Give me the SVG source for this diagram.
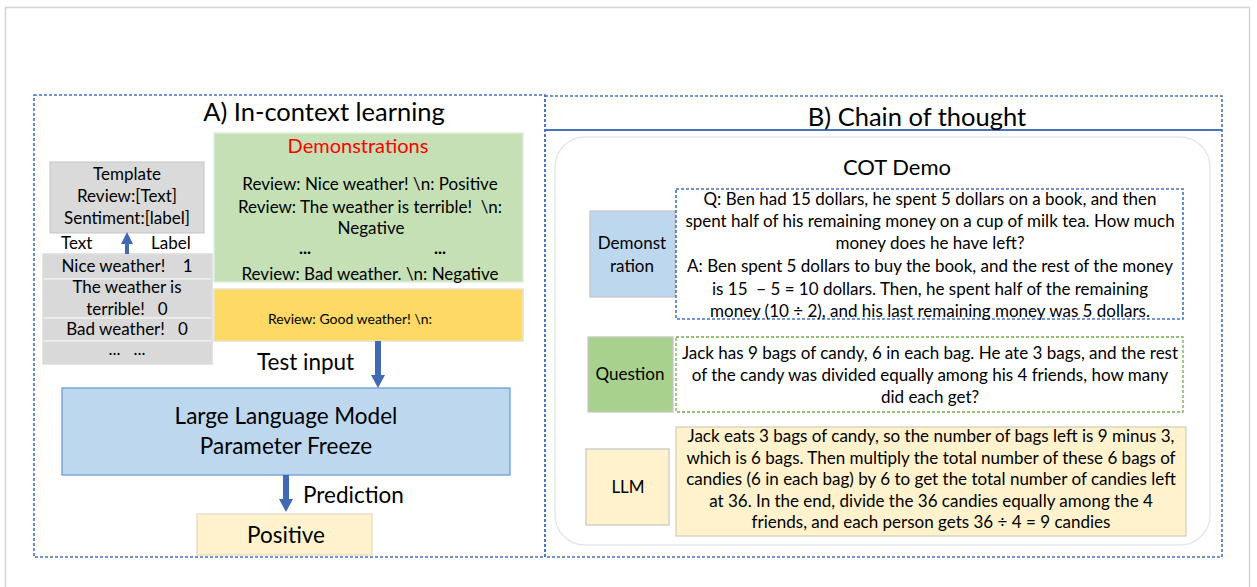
<svg xmlns="http://www.w3.org/2000/svg" width="1257" height="587" viewBox="0 0 1257 587">
<defs>
<style>
text{font-family:Lato,"Liberation Sans",sans-serif;fill:#000;}
.c{text-anchor:middle;}
.dash{fill:none;stroke:#4472c4;stroke-width:1.6;stroke-dasharray:3 2;}
.gray{fill:#dadada;stroke:#c6c6c6;stroke-width:1;}
.row{fill:#d9d9d9;stroke:#f2f2f2;stroke-width:1.2;}
.t15{font-size:17px;}
.t20{font-size:22.5px;}
</style>
</defs>
<rect x="0" y="0" width="1257" height="587" fill="#fff"/>
<rect x="5.5" y="7.5" width="1244" height="600" fill="none" stroke="#d4d4d4" stroke-width="1.5"/>

<g id="panelA">
<rect class="dash" x="34" y="95" width="511" height="462"/>
<text class="c" x="324" y="121" font-size="25.5">A) In-context learning</text>
</g>

<g id="panelB">
<rect class="dash" x="545" y="96" width="677" height="461"/>
<line x1="545" y1="130" x2="1222" y2="130" stroke="#4472c4" stroke-width="1.8"/>
<text class="c" x="917" y="126" font-size="25.5">B) Chain of thought</text>
<rect x="555" y="137" width="655" height="408" rx="30" fill="#fff" stroke="#e6e6f2" stroke-width="1.5"/>
<text class="c" x="897" y="175" font-size="22">COT Demo</text>
</g>

<g id="template">
<rect class="gray" x="50" y="162" width="154" height="71"/>
<text class="c t15" x="127" y="180">Template</text>
<text class="c t15" x="127" y="202">Review:[Text]</text>
<text class="c t15" x="127" y="224">Sentiment:[label]</text>
</g>

<g id="table">
<text class="t15" x="61" y="249">Text</text>
<text class="t15" x="151" y="249">Label</text>
<rect class="row" x="43" y="254" width="169" height="25"/>
<rect class="row" x="43" y="279" width="169" height="39"/>
<rect class="row" x="43" y="318" width="169" height="23"/>
<rect class="row" x="43" y="341" width="169" height="23"/>
<rect x="43" y="254" width="169" height="110" fill="none" stroke="#cfcfcf" stroke-width="1"/>
<text class="c t15" x="127" y="272" xml:space="preserve">Nice weather!    1</text>
<text class="c t15" x="127" y="293">The weather is</text>
<text class="c t15" x="127" y="315" xml:space="preserve">terrible!   0</text>
<text class="c t15" x="127" y="335" xml:space="preserve">Bad weather!   0</text>
<text class="c t15" x="127" y="355" xml:space="preserve">...   ...</text>
</g>

<g id="demonstrations">
<rect x="214" y="133" width="309" height="149" fill="#c5e0b4" stroke="#dfeedd" stroke-width="1.5"/>
<text class="c" x="358" y="153" font-size="20" style="fill:#ff0000">Demonstrations</text>
<text class="c t15" x="370" y="190">Review: Nice weather! \n: Positive</text>
<text class="c t15" x="370" y="213" xml:space="preserve">Review: The weather is terrible!  \n:</text>
<text class="c t15" x="371" y="234">Negative</text>
<text class="t15" x="299" y="254" font-weight="bold">...</text>
<text class="t15" x="434" y="254" font-weight="bold">...</text>
<text class="c t15" x="370" y="280">Review: Bad weather. \n: Negative</text>
</g>

<g id="testinput">
<rect x="214" y="289" width="309" height="52" fill="#ffd966" stroke="#e8e2c8" stroke-width="1.5"/>
<text class="c" x="350" y="324" font-size="14">Review: Good weather! \n:</text>
</g>

<g id="llm">
<rect x="62" y="388" width="448" height="87" fill="#bdd7ee" stroke="#6f9bd6" stroke-width="1.3"/>
<text class="c t20" x="286" y="424">Large Language Model</text>
<text class="c t20" x="286" y="454">Parameter Freeze</text>
</g>

<g id="positive">
<rect x="197" y="514" width="175" height="41" fill="#fff2cc" stroke="#e3dcc6" stroke-width="1.3"/>
<text class="c t20" x="286" y="543">Positive</text>
</g>

<g id="cot-demo">
<rect x="590" y="211" width="85" height="86" fill="#bdd7ee" stroke="#c7c7c7" stroke-width="1.3"/>
<text class="c t15" x="632" y="249">Demonst</text>
<text class="c t15" x="632" y="272">ration</text>
<rect class="dash" x="676" y="189" width="507" height="130"/>
<text class="c t15" x="930" y="205">Q: Ben had 15 dollars, he spent 5 dollars on a book, and then</text>
<text class="c t15" x="930" y="227">spent half of his remaining money on a cup of milk tea. How much</text>
<text class="c t15" x="930" y="249">money does he have left?</text>
<text class="c t15" x="930" y="272">A: Ben spent 5 dollars to buy the book, and the rest of the money</text>
<text class="c t15" x="930" y="295" xml:space="preserve">is 15  − 5 = 10 dollars. Then, he spent half of the remaining</text>
<text class="c t15" x="930" y="317">money (10 ÷ 2), and his last remaining money was 5 dollars.</text>
</g>

<g id="cot-question">
<rect x="588" y="337" width="85" height="75" fill="#a9d18e" stroke="#c7c7c7" stroke-width="1.3"/>
<text class="c t15" x="630" y="380">Question</text>
<rect x="676" y="337" width="507" height="75" fill="none" stroke="#70ad47" stroke-width="1.3" stroke-dasharray="3 2"/>
<text class="c t15" x="930" y="359">Jack has 9 bags of candy, 6 in each bag. He ate 3 bags, and the rest</text>
<text class="c t15" x="930" y="381">of the candy was divided equally among his 4 friends, how many</text>
<text class="c t15" x="930" y="403">did each get?</text>
</g>

<g id="cot-llm">
<rect x="586" y="449" width="83" height="76" fill="#fff2cc" stroke="#c9c9c9" stroke-width="1.3"/>
<text class="c t15" x="628" y="493">LLM</text>
<rect x="676" y="427" width="510" height="109" fill="#fff2cc" stroke="#d6cfb8" stroke-width="1.3"/>
<text class="c t15" x="931" y="442">Jack eats 3 bags of candy, so the number of bags left is 9 minus 3,</text>
<text class="c t15" x="931" y="464">which is 6 bags. Then multiply the total number of these 6 bags of</text>
<text class="c t15" x="931" y="485">candies (6 in each bag) by 6 to get the total number of candies left</text>
<text class="c t15" x="931" y="507">at 36. In the end, divide the 36 candies equally among the 4</text>
<text class="c t15" x="931" y="528">friends, and each person gets 36 ÷ 4 = 9 candies</text>
</g>

<g id="connectors" fill="#4169b4" stroke="none">
<polygon points="125,254 125,244 121,244 127,232 133,244 129,244 129,254"/>
<polygon points="375,341 375,375 371,375 378,388 385,375 381,375 381,341"/>
<polygon points="283,475 283,499 279,499 286,512 293,499 289,499 289,475"/>
<text x="257" y="370" font-size="22.5">Test input</text>
<text x="303" y="503" font-size="22.5">Prediction</text>
</g>
</svg>
